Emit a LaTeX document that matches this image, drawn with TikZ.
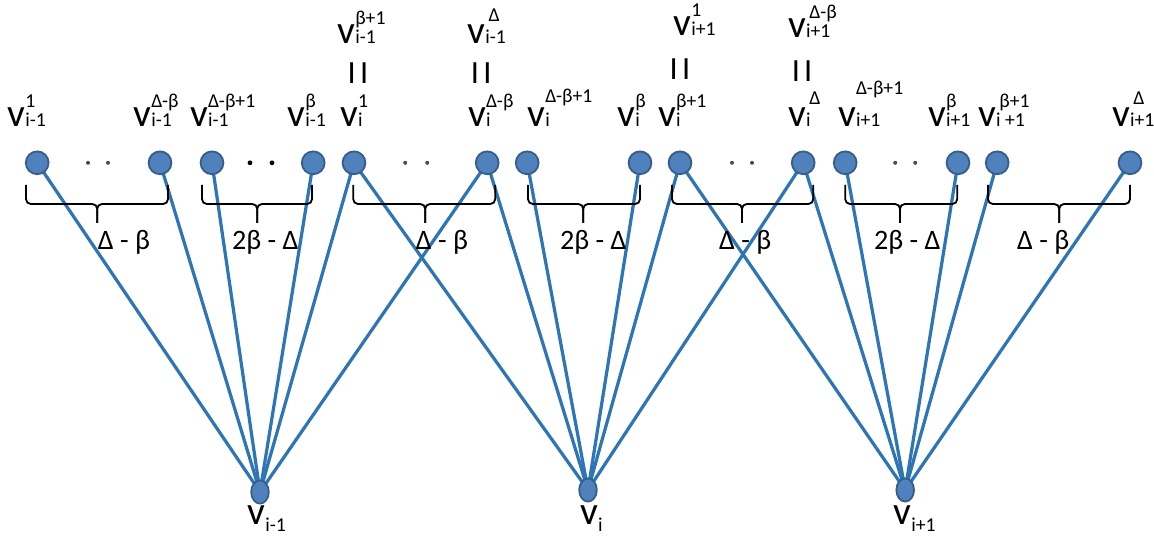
\documentclass[tikz,border=0pt]{standalone}
\usepackage{fontspec}
\setmainfont{Carlito}
\usetikzlibrary{shapes.geometric}
\definecolor{nodeblue}{RGB}{79,129,189}
\definecolor{nodeedge}{RGB}{56,93,138}
\definecolor{linkblue}{RGB}{46,117,182}

\newcommand{\vsz}{\fontsize{28}{30}\selectfont}
\newcommand{\ssz}{\fontsize{14}{16}\selectfont}
% v with sub and sup; optional arg lifts the sup a bit more (pt)
\newcommand{\vl}[3][0]{{\vsz v}{\ssz\rlap{\raisebox{\dimexpr14pt+#1pt\relax}{#3}}#2}}
% bracket under a group of vertices: left, right, tip
\newcommand{\brk}[3]{%
    \draw[brc] (#1,8.88) -- (#1,8.4) -- (#3,8.4) -- (#3,7.93);
    \draw[brc] (#2,8.88) -- (#2,8.4) -- (#3,8.4) -- (#3,7.93);}

\begin{document}
\begin{tikzpicture}[
    dot/.style={circle, draw=nodeedge, line width=1.3pt, fill=nodeblue,
        minimum size=0.57cm, inner sep=0pt},
    hub/.style={ellipse, draw=nodeedge, line width=1.3pt, fill=nodeblue,
        minimum width=0.44cm, minimum height=0.58cm, inner sep=0pt},
    lbl/.style={anchor=base west, inner sep=0pt},
    eq/.style={font=\fontsize{23}{25}\selectfont, inner sep=0pt},
    cnt/.style={anchor=base, inner sep=0pt, font=\fontsize{20}{24}\selectfont},
    brc/.style={draw=black, line width=1.3pt, rounded corners=0.12cm},
    edge/.style={draw=linkblue, line width=2.3pt}
]
    \useasboundingbox (0,0) rectangle (28.85,13.5);

    % ---- links first, vertices on top ----
    \foreach \x [count=\k] in {0.93,4.0,5.3,7.83,8.85,12.18,13.18,16.0,17.0,20.08,21.13,23.95,24.93,28.25}
        \coordinate (p\k) at (\x,9.43);
    \coordinate (q1) at (6.5,1.2);
    \coordinate (q2) at (14.7,1.25);
    \coordinate (q3) at (22.63,1.25);
    \foreach \k in {1,...,6}   \draw[edge] (q1) -- (p\k);
    \foreach \k in {5,...,10}  \draw[edge] (q2) -- (p\k);
    \foreach \k in {9,...,14}  \draw[edge] (q3) -- (p\k);

    % ---- top vertices ----
    \foreach \k in {1,...,14}
        \node[dot] (t\k) at (p\k) {};

    % ---- bottom vertices ----
    \node[hub] (b1) at (q1) {};
    \node[hub] (b2) at (q2) {};
    \node[hub] (b3) at (q3) {};

    % dots between vertices
    \foreach \x in {2.2,2.7,10.13,10.68,18.3,18.8,22.38,22.88}
        \fill[black!70] (\x,9.43) circle (0.05);
    \foreach \x in {6.25,6.8}
        \fill[black] (\x,9.43) circle (0.06);

    % ---- labels, lower row ----
    \node[lbl] (l1)  at (0.18,10.33) {\vl{i-1}{1}};
    \node[lbl] (l2)  at (3.33,10.33) {\vl{i-1}{Δ-β}};
    \node[lbl] (l3)  at (4.75,10.33) {\vl{i-1}{Δ-β+1}};
    \node[lbl] (l4)  at (7.18,10.33) {\vl{i-1}{β}};
    \node[lbl] (l5)  at (8.5,10.33)  {\vl{i}{1}};
    \node[lbl] (l6)  at (11.7,10.33) {\vl{i}{Δ-β}};
    \node[lbl] (l7)  at (13.18,10.33) {\vl[3]{i}{Δ-β+1}};
    \node[lbl] (l8)  at (15.43,10.33) {\vl{i}{β}};
    \node[lbl] (l9)  at (16.45,10.33) {\vl{i}{β+1}};
    \node[lbl] (l10) at (19.7,10.33) {\vl[2]{i}{\,Δ}};
    \node[lbl] (l11) at (20.95,10.33) {\vl[9]{i+1}{Δ-β+1}};
    \node[lbl] (l12) at (23.2,10.33) {\vl{i+1}{β}};
    \node[lbl] (l13) at (24.45,10.33) {\vl{i +1}{\,β+1}};
    \node[lbl] (l14) at (27.8,10.33) {\vl[2]{i+1}{\,Δ}};

    % ---- equal vertices, upper row ----
    \node[lbl] (u5)  at (8.43,12.4) {\vl{i-1}{β+1}};
    \node[lbl] (u6)  at (11.68,12.4) {\vl[2]{i-1}{\,Δ}};
    \node[lbl] (u9)  at (16.83,12.6) {\vl{i+1}{1}};
    \node[lbl] (u10) at (19.7,12.55) {\vl{i+1}{\,Δ-β}};
    \node[eq] (e5)  at (8.95,11.68) {I\hspace{3pt}I};
    \node[eq] (e6)  at (12.03,11.68) {I\hspace{3pt}I};
    \node[eq] (e9)  at (17.0,11.78) {I\hspace{3pt}I};
    \node[eq] (e10) at (20.05,11.72) {I\hspace{3pt}I};

    % ---- brackets with counts ----
    \brk{0.65}{4.2}{2.43}
    \brk{5.05}{7.8}{6.43}
    \brk{8.83}{12.38}{10.63}
    \brk{13.2}{16.0}{14.58}
    \brk{16.8}{20.33}{18.55}
    \brk{21.13}{23.93}{22.5}
    \brk{24.7}{28.25}{26.48}
    \node[cnt] (c1) at (3.1,7.25)   {Δ - β};
    \node[cnt] (c2) at (6.63,7.25)  {2β - Δ};
    \node[cnt] (c3) at (11.05,7.25) {Δ - β};
    \node[cnt] (c4) at (14.83,7.25) {2β - Δ};
    \node[cnt] (c5) at (18.63,7.25) {Δ - β};
    \node[cnt] (c6) at (22.68,7.25) {2β - Δ};
    \node[cnt] (c7) at (26.08,7.25) {Δ - β};

    % ---- bottom labels ----
    \node[lbl] (m1) at (6.18,0.38)  {{\vsz v}{\ssz\raisebox{-5pt}{i-1}}};
    \node[lbl] (m2) at (14.5,0.38)  {{\vsz v}{\ssz\raisebox{-5pt}{i}}};
    \node[lbl] (m3) at (22.33,0.38) {{\vsz v}{\ssz\raisebox{-5pt}{i+1}}};
\end{tikzpicture}
\end{document}
